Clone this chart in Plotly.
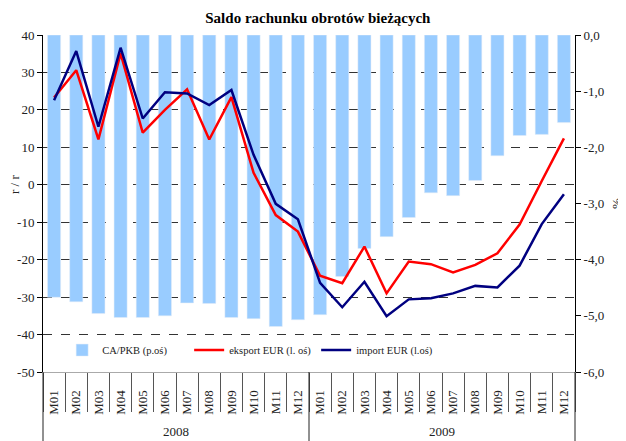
import plotly.graph_objects as go

years = ["2008"] * 12 + ["2009"] * 12
months = ["M01", "M02", "M03", "M04", "M05", "M06", "M07", "M08", "M09", "M10", "M11", "M12",
          "M01", "M02", "M03", "M04", "M05", "M06", "M07", "M08", "M09", "M10", "M11", "M12"]
year_labels = ["2008", "2009"]

ca_pkb = [-4.67, -4.75, -4.96, -5.03, -5.03, -5.00, -4.77, -4.78, -5.03, -5.05, -5.19, -5.07,
          -4.98, -4.30, -3.80, -3.59, -3.25, -2.81, -2.86, -2.59, -2.15, -1.79, -1.77, -1.56]
eksport = [23.3, 30.6, 12.1, 35.1, 13.9, 20.0, 25.5, 12.1, 23.4, 3.2, -8.1, -12.5,
           -24.3, -26.3, -16.5, -29.0, -20.5, -21.2, -23.4, -21.4, -18.3, -10.6, 1.0, 12.4]
imp = [22.6, 35.7, 15.5, 36.6, 17.7, 24.7, 24.4, 21.3, 25.3, 8.0, -5.1, -9.2,
       -26.2, -32.7, -25.9, -35.1, -30.6, -30.3, -29.0, -27.0, -27.4, -21.6, -10.5, -2.5]

left_ticks = [40, 30, 20, 10, 0, -10, -20, -30, -40, -50]
left_text = ["40", "30", "20", "10", "0", "-10", "-20", "-30", "-40", "-50"]
right_ticks = [0, -1, -2, -3, -4, -5, -6]
right_text = ["0,0", "-1,0", "-2,0", "-3,0", "-4,0", "-5,0", "-6,0"]

FONT = "Liberation Serif, Times New Roman, serif"
cats = [f"{y} {m}" for y, m in zip(years, months)]

fig = go.Figure()
fig.add_trace(go.Bar(x=cats, y=ca_pkb, name="CA/PKB (p.oś)", marker_color="#99CCFF",
                     yaxis="y"))
fig.add_trace(go.Scatter(x=cats, y=eksport, name="eksport EUR (l. oś)", mode="lines",
                         line=dict(color="#FF0000", width=2.5), yaxis="y2"))
fig.add_trace(go.Scatter(x=cats, y=imp, name="import EUR (l.oś)", mode="lines",
                         line=dict(color="#000080", width=2.5), yaxis="y2"))

# year group labels and dividers below the category axis
annotations = [dict(text="r / r", textangle=-90, xref="paper", yref="paper",
                    x=-0.0526, xanchor="center", y=0.555, yanchor="middle",
                    showarrow=False, font=dict(family=FONT, size=13))]
shapes = []
n_year = len(year_labels)
for k, yl in enumerate(year_labels):
    annotations.append(dict(text=yl, xref="paper", yref="paper", x=(k + 0.5) / n_year,
                            y=-0.178, xanchor="center", yanchor="middle", showarrow=False,
                            font=dict(family=FONT, size=13, color="#222")))
for k in range(n_year + 1):
    shapes.append(dict(type="line", xref="paper", yref="paper", x0=k / n_year,
                       x1=k / n_year, y0=0, y1=-0.3, line=dict(color="#222", width=1)))

fig.update_layout(
    width=626, height=441,
    margin=dict(l=35, r=59, t=27, b=77, autoexpand=False),
    paper_bgcolor="white", plot_bgcolor="white",
    font=dict(family=FONT, size=13, color="#222"),
    bargap=0.41,
    title=dict(text="<b>Saldo rachunku obrotów bieżących</b>", x=0.495, xanchor="center",
               y=0.977, yanchor="middle", font=dict(family=FONT, size=15, color="#000")),
    showlegend=True,
    legend=dict(orientation="h", x=0.036, xanchor="left", y=0.065, yanchor="middle",
                bgcolor="rgba(0,0,0,0)", font=dict(family=FONT, size=10.5, color="#222"),
                entrywidth=82, entrywidthmode="pixels", traceorder="normal"),
    xaxis=dict(type="category", tickmode="array", tickvals=cats, ticktext=months,
               tickangle=-90, ticks="outside", ticklen=39, tickson="boundaries",
               tickcolor="#555", showline=True, linecolor="#aaa", linewidth=1,
               ticklabelstandoff=12, showgrid=False, automargin=False,
               tickfont=dict(family=FONT, size=13)),
    yaxis=dict(side="right", range=[-6, 0], tickvals=right_ticks, ticktext=right_text,
               showgrid=False, zeroline=False, showline=True, linecolor="#000",
               linewidth=1, ticks="outside", ticklen=5, tickcolor="#000", automargin=False,
               tickfont=dict(family=FONT, size=13),
               title=dict(text="%", standoff=8, font=dict(family=FONT, size=13))),
    yaxis2=dict(side="left", overlaying="y", range=[-50, 40], tickvals=left_ticks,
                ticktext=left_text, showgrid=True, gridcolor="#333", griddash="dash",
                gridwidth=1, zeroline=False, showline=True, linecolor="#000",
                linewidth=1, ticks="outside", ticklen=5, tickcolor="#000", automargin=False,
                tickfont=dict(family=FONT, size=13)),
    xaxis2=dict(overlaying="x", anchor="free", position=50 / 90, range=[-0.5, 23.5],
                tickvals=[i + 0.5 for i in range(-1, 24)], showticklabels=False,
                ticks="outside", ticklen=4, tickcolor="#444", showline=True,
                linecolor="#444", linewidth=1.3, showgrid=False, zeroline=False,
                layer="above traces", automargin=False),
    annotations=annotations,
    shapes=shapes,
)

fig.write_html("out.html")
